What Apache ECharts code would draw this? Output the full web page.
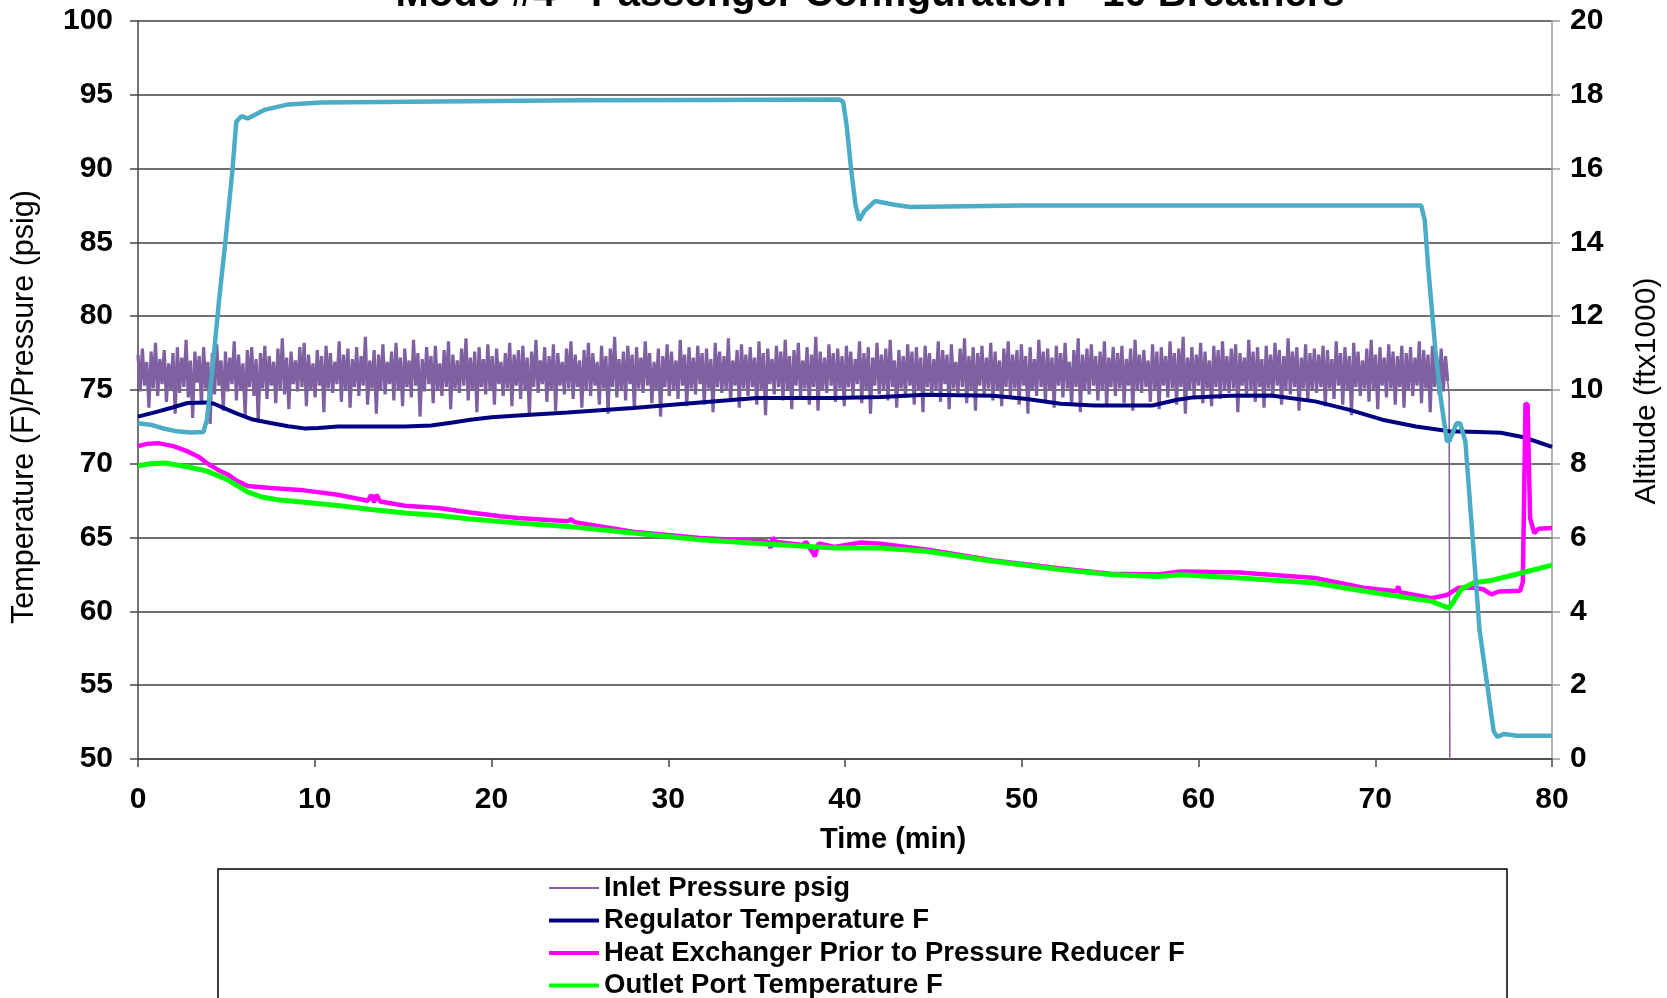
<!DOCTYPE html>
<html><head><meta charset="utf-8">
<script src="https://cdn.jsdelivr.net/npm/echarts@6/dist/echarts.min.js"></script>
<style>html,body{margin:0;padding:0;background:#fff}#c{width:1667px;height:998px}</style>
</head><body><div id="c"></div>
<script>
// ---------------- DATA ----------------
const titleText = 'Mode #4 - Passenger Configuration - 10 Breathers';
const xName = 'Time (min)';
const yLeftName = 'Temperature (F)/Pressure (psig)';
const yRightName = 'Altitude (ftx1000)';
const seriesNames = ['Inlet Pressure psig', 'Regulator Temperature F', 'Heat Exchanger Prior to Pressure Reducer F', 'Outlet Port Temperature F', 'Altitude (ftx1000)'];

// Inlet pressure: evenly sampled readings from inletStart to inletEnd (min)
const inletStart = 0, inletEnd = 74.1;
const inletPressure = [
77.4,74.9,77.8,75.3,76.9,73.8,77.6,75.1,78.2,74.6,77.1,75.4,77.7,74.2,76.8,75.0,77.5,73.4,77.9,74.8,
77.2,75.2,78.4,74.5,77.0,73.1,77.6,75.5,77.3,74.0,77.9,75.1,76.9,72.7,77.5,74.7,78.1,75.3,77.0,73.6,
77.6,74.9,77.2,75.4,78.3,74.3,77.4,75.0,76.8,73.3,77.7,75.2,77.9,74.6,77.1,72.8,77.5,75.1,78.0,74.4,
77.3,75.3,76.9,74.1,77.8,75.0,78.5,74.7,77.2,73.7,77.6,75.4,77.0,74.9,77.9,75.2,78.2,73.9,77.4,75.0,
76.8,74.5,77.7,75.3,77.3,73.5,78.0,75.1,77.5,74.8,76.9,75.4,78.3,74.2,77.4,75.0,77.8,73.8,77.1,75.2,
77.9,74.6,77.3,75.3,78.6,74.0,77.0,75.1,77.7,73.4,77.4,75.0,78.1,74.7,76.9,75.4,77.6,74.3,78.2,75.0,
77.2,73.9,77.8,75.2,77.0,74.5,78.4,75.3,77.5,73.2,77.1,74.9,77.9,75.4,77.3,74.1,78.0,75.0,76.8,74.6,
77.7,75.2,78.3,73.7,77.4,75.1,77.0,74.8,77.8,75.3,78.5,74.3,77.2,75.0,77.6,73.5,77.9,75.2,77.1,74.7,
78.1,75.0,77.3,74.0,77.8,75.4,76.9,74.6,77.5,75.1,78.2,73.9,77.4,75.3,77.7,74.4,78.0,75.0,77.2,73.3,
77.6,75.2,78.4,74.8,77.0,75.4,77.9,74.2,77.3,75.0,78.1,73.6,77.5,75.3,76.9,74.7,77.8,75.1,78.3,74.4,
77.4,75.2,77.0,73.8,77.7,75.0,78.2,74.6,77.5,75.3,76.9,74.0,78.0,75.1,77.3,73.4,77.8,75.2,78.6,74.5,
77.1,75.0,77.6,74.3,78.0,75.4,77.4,73.7,77.9,75.1,77.2,74.8,78.3,75.3,77.5,74.1,76.9,75.0,77.8,73.2,
77.3,75.2,78.1,74.6,77.6,75.0,77.0,74.4,78.4,75.3,77.4,73.9,77.9,75.1,77.2,74.7,78.0,75.4,77.5,74.0,
77.8,75.1,77.1,73.5,78.2,75.2,77.6,74.8,77.3,75.0,78.5,74.2,77.0,75.3,77.7,73.8,78.1,75.1,77.4,74.6,
77.9,75.2,77.2,74.0,78.3,75.0,77.5,73.3,77.8,75.4,77.1,74.7,78.0,75.2,77.6,74.3,78.4,75.0,77.3,73.7,
77.7,75.3,78.2,74.5,77.0,75.1,77.9,74.0,77.4,75.2,78.6,73.6,77.6,75.0,77.2,74.8,78.1,75.3,77.5,74.2,
77.8,75.1,77.3,73.9,78.0,75.2,77.6,74.6,77.1,75.4,78.3,74.1,77.5,75.0,77.9,73.4,77.2,75.3,78.2,74.7,
77.4,75.0,77.8,74.3,78.4,75.2,77.0,73.8,77.7,75.1,77.3,74.5,78.1,75.3,77.6,74.0,77.9,75.0,77.2,73.5,
78.0,75.2,77.5,74.6,77.1,75.0,78.3,74.2,77.7,75.4,77.4,73.7,78.1,75.1,76.9,74.8,77.8,75.2,78.5,74.1,
77.3,75.0,77.9,73.6,77.5,75.3,78.0,74.7,77.2,75.1,78.2,74.3,77.6,75.0,77.0,73.9,77.8,75.2,78.3,74.5,
77.4,75.1,77.7,74.0,78.1,75.3,77.3,73.4,77.9,75.0,77.1,74.6,78.4,75.2,77.6,74.2,77.8,75.0,77.2,73.8,
78.0,75.3,77.5,74.5,78.2,75.1,76.9,74.0,77.7,75.2,78.5,73.5,77.4,75.0,77.8,74.7,78.1,75.3,77.3,74.3,
77.6,75.0,78.3,73.9,77.2,75.2,77.9,74.6,77.5,75.1,78.0,74.1,77.1,75.3,77.8,73.6,78.4,75.0,77.4,74.8,
77.7,75.2,77.0,74.2,78.1,75.0,77.6,73.7,77.9,75.3,77.3,74.5,78.3,75.1,77.5,74.0,77.8,75.2,78.6,73.4,
77.2,75.0,77.9,74.6,77.4,75.3,78.2,74.1,77.6,75.1,77.0,73.9,78.0,75.2,77.7,74.4,78.3,75.0,77.3,74.8,
77.8,75.1,78.1,73.5,77.5,75.3,77.2,74.6,78.4,75.0,77.6,74.2,77.9,75.2,77.1,73.8,78.0,75.1,77.4,74.5,
78.2,75.3,77.7,74.0,77.3,75.0,78.5,74.7,77.6,75.2,77.9,73.6,77.2,75.1,78.1,74.3,77.5,75.0,77.8,74.8,
77.4,75.2,78.0,73.9,77.7,75.1,77.1,74.4,78.3,75.3,77.5,74.0,77.9,75.0,77.3,73.3,78.2,75.2,77.6,74.6,
77.0,75.1,77.8,74.2,78.4,75.0,77.4,73.7,77.9,75.3,77.2,74.5,78.1,75.1,77.6,74.0,77.3,75.2,78.0,73.8,
77.5,75.0,77.9,74.6,77.2,75.3,78.3,74.1,77.7,75.1,77.4,73.5,78.0,75.2,77.1,74.7,77.8,74.9,77.3,75.6
];
// shut-off: [time, psig]
const inletShutoff = [[74.1, 75.6], [74.18, 74.6], [74.22, 50]];

// [time (min), °F]
const regulatorTemp = [[0,73.2],[1,73.5],[1.9,73.8],[2.8,74.12],[3.9,74.16],[4.3,74.07],[5.0,73.7],[5.6,73.4],[6.5,73.0],[7.5,72.76],[8.5,72.55],[9.4,72.4],[10.2,72.42],[11.3,72.53],[13.2,72.53],[15.1,72.53],[16.6,72.6],[17.8,72.8],[18.8,72.99],[20,73.15],[21.5,73.28],[24.3,73.48],[28,73.78],[31.8,74.16],[35,74.46],[37,74.46],[39.4,74.46],[42,74.53],[44.6,74.68],[48.4,74.61],[50.3,74.39],[52.2,74.07],[54.1,73.95],[57.4,73.95],[58.8,74.34],[59.7,74.5],[61.8,74.61],[64.1,74.63],[66.6,74.23],[68.5,73.67],[70.4,72.99],[72.3,72.53],[74.2,72.2],[75.9,72.15],[77.1,72.1],[78.4,71.8],[80,71.15]];

const heatExchangerTemp = [[0,71.2],[0.5,71.35],[1.13,71.4],[2,71.2],[2.8,70.84],[3.4,70.5],[3.9,70.05],[4.5,69.6],[5.1,69.26],[5.6,68.85],[6.2,68.5],[7.5,68.36],[9.4,68.2],[11.3,67.9],[13.0,67.5],[13.2,67.9],[13.35,67.4],[13.5,67.9],[13.7,67.45],[15.1,67.16],[17,67.0],[18.8,66.7],[20.5,66.44],[21.5,66.33],[24.3,66.1],[24.5,66.25],[24.7,66.05],[28,65.4],[31.8,64.97],[35.6,64.74],[35.8,64.3],[35.9,65.0],[36.1,64.7],[37.6,64.5],[37.8,64.7],[38.3,63.73],[38.5,64.6],[39.4,64.36],[40.9,64.67],[42,64.59],[44.6,64.2],[48.4,63.45],[52.2,62.9],[55,62.55],[57.7,62.5],[59,62.7],[62.35,62.64],[62.7,62.6],[66.6,62.26],[69.4,61.59],[71.2,61.36],[71.3,61.7],[71.4,61.3],[73.2,60.9],[74.1,61.13],[74.7,61.6],[75.6,61.6],[76.1,61.5],[76.57,61.15],[77.0,61.35],[78.2,61.4],[78.35,62.0],[78.5,74.1],[78.62,74.0],[78.76,66.3],[79.0,65.3],[79.24,65.6],[80,65.65]];

const outletTemp = [[0,69.87],[0.7,70.0],[1.5,70.05],[2.8,69.8],[3.9,69.5],[5.1,68.9],[6.2,68.1],[7.0,67.75],[7.9,67.57],[9.4,67.4],[11.3,67.17],[13.2,66.9],[15.1,66.67],[17,66.5],[18.8,66.26],[21.5,65.99],[24.3,65.76],[28,65.31],[31.8,64.86],[35.6,64.57],[39.4,64.3],[42,64.3],[44.6,64.07],[48.4,63.4],[52.2,62.83],[55,62.5],[57.7,62.37],[59,62.49],[62.35,62.26],[66.6,61.92],[69.4,61.36],[71.3,61.02],[73.2,60.68],[74.15,60.23],[74.4,60.6],[74.86,61.5],[75.6,61.96],[76.57,62.1],[78.1,62.55],[80,63.13]];

// [time (min), ft x1000]
const altitude = [[0,9.1],[0.8,9.05],[1.5,8.95],[2.2,8.88],[3.0,8.85],[3.7,8.86],[3.9,9.2],[4.2,10.5],[4.6,12.5],[4.94,14.0],[5.35,16.0],[5.56,17.27],[5.85,17.42],[6.2,17.36],[7.15,17.59],[8.5,17.74],[10.4,17.79],[17,17.82],[25,17.85],[32,17.86],[39.7,17.87],[39.9,17.8],[40.1,17.14],[40.35,15.96],[40.6,15.0],[40.8,14.6],[41.1,14.85],[41.7,15.12],[42.8,15.02],[43.7,14.96],[50,15.0],[60,15.0],[72.6,15.0],[72.8,14.6],[73.0,13.3],[73.4,11.1],[73.7,9.8],[74.05,8.62],[74.2,8.62],[74.6,9.1],[74.8,9.1],[75.1,8.6],[75.9,3.5],[76.7,0.75],[76.9,0.6],[77.3,0.68],[78,0.63],[80,0.63]];

const xAxisRange = {min: 0, max: 80, interval: 10};
const yLeftRange = {min: 50, max: 100, interval: 5};
const yRightRange = {min: 0, max: 20, interval: 2};

// ---------------- CHART ----------------
const FONT = '"Liberation Sans", Arial, sans-serif';
const inletData = inletPressure.map((v, i) => [inletStart + i * (inletEnd - inletStart) / (inletPressure.length - 1), v]);

const chart = echarts.init(document.getElementById('c'), null, {renderer: 'canvas'});
const labelStyle = {fontFamily: FONT, fontWeight: 'bold', fontSize: 30, color: '#000'};
const lineSeries = (name, data, color, width, yIdx) => ({
  name, type: 'line', data, yAxisIndex: yIdx, showSymbol: false, symbol: 'none',
  lineStyle: {color, width}, itemStyle: {color}, clip: true, silent: true
});

chart.setOption({
  animation: false,
  backgroundColor: '#fff',
  grid: {left: 138, right: 115, top: 21, bottom: 239},
  xAxis: {
    type: 'value', min: xAxisRange.min, max: xAxisRange.max, interval: xAxisRange.interval,
    axisLine: {show: true, lineStyle: {color: '#444', width: 1.5}},
    axisTick: {show: true, length: 8, lineStyle: {color: '#444', width: 1.5}},
    axisLabel: Object.assign({margin: 26}, labelStyle),
    splitLine: {show: false}
  },
  yAxis: [{
    type: 'value', position: 'left', min: yLeftRange.min, max: yLeftRange.max, interval: yLeftRange.interval,
    axisLine: {show: true, lineStyle: {color: '#444', width: 1.5}},
    axisTick: {show: true, length: 8, lineStyle: {color: '#444', width: 1.5}},
    axisLabel: Object.assign({margin: 25}, labelStyle),
    splitLine: {show: true, lineStyle: {color: '#404040', width: 1.5}}
  }, {
    type: 'value', position: 'right', min: yRightRange.min, max: yRightRange.max, interval: yRightRange.interval,
    axisLine: {show: true, lineStyle: {color: '#9a9a9a', width: 1.5}},
    axisTick: {show: true, length: 8, lineStyle: {color: '#9a9a9a', width: 1.5}},
    axisLabel: Object.assign({margin: 18}, labelStyle),
    splitLine: {show: false}
  }],
  legend: {
    orient: 'vertical', left: 547, top: 874, height: 200, padding: 0, itemGap: 4.5,
    itemWidth: 50, itemHeight: 14,
    itemStyle: {opacity: 0},
    data: [
      {name: seriesNames[0], lineStyle: {width: 2}},
      {name: seriesNames[1], lineStyle: {width: 4}},
      {name: seriesNames[2], lineStyle: {width: 4}},
      {name: seriesNames[3], lineStyle: {width: 4}}
    ],
    textStyle: {fontFamily: FONT, fontWeight: 'bold', fontSize: 27.5, lineHeight: 28, color: '#000'}
  },
  graphic: [
    {type: 'rect', shape: {x: 218, y: 869, width: 1289, height: 200}, style: {fill: 'none', stroke: '#000', lineWidth: 1.5}, silent: true},
    {type: 'text', x: 870, y: 15, style: {text: titleText, font: 'bold 40px ' + FONT, fill: '#000', textAlign: 'center', textVerticalAlign: 'bottom'}},
    {type: 'text', x: 893, y: 840, style: {text: xName, font: 'bold 29px ' + FONT, fill: '#000', textAlign: 'center', textVerticalAlign: 'middle'}},
    {type: 'text', x: 25, y: 407, rotation: Math.PI / 2, style: {text: yLeftName, font: '30.5px ' + FONT, fill: '#000', textAlign: 'center', textVerticalAlign: 'middle'}},
    {type: 'text', x: 1647, y: 391, rotation: Math.PI / 2, style: {text: yRightName, font: '30px ' + FONT, fill: '#000', textAlign: 'center', textVerticalAlign: 'middle'}}
  ],
  series: [
    lineSeries(seriesNames[0], inletData, '#7F61A2', 3.2, 0),
    lineSeries(seriesNames[0], inletShutoff, '#7F61A2', 1.5, 0),
    lineSeries(seriesNames[1], regulatorTemp, '#000080', 4, 0),
    lineSeries(seriesNames[2], heatExchangerTemp, '#FF00FF', 4.5, 0),
    lineSeries(seriesNames[3], outletTemp, '#00FF00', 5, 0),
    lineSeries(seriesNames[4], altitude, '#4BACC6', 4.5, 1)
  ]
});
</script>
</body></html>
